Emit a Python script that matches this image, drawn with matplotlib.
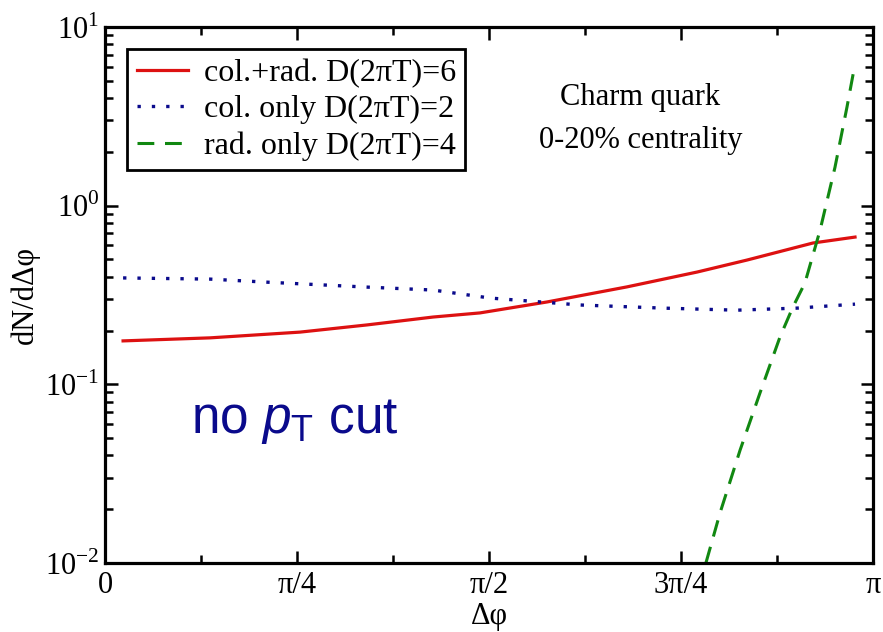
#!/usr/bin/env python3
''' charm quark dN/dDphi, no pT cut '''

import numpy as np
import matplotlib
matplotlib.use('Agg')
import matplotlib.pyplot as plt
from matplotlib.ticker import FixedLocator, FixedFormatter, LogLocator, NullFormatter

plt.rcParams['font.family'] = ['Liberation Serif', 'DejaVu Serif']
plt.rcParams['mathtext.fontset'] = 'custom'
plt.rcParams['mathtext.rm'] = 'Liberation Serif'
plt.rcParams['mathtext.it'] = 'Liberation Sans:italic'
plt.rcParams['mathtext.sf'] = 'Liberation Sans'

# values (x in radians)
phi_colrad = [0.074, 0.430, 0.798, 1.072, 1.342, 1.534, 1.808, 2.135, 2.422, 2.626, 2.896, 3.068]
dn_colrad = [0.175, 0.182, 0.196, 0.215, 0.238, 0.251, 0.289, 0.351, 0.425, 0.496, 0.618, 0.667]

phi_col = [0.074, 0.430, 0.663, 1.072, 1.342, 1.575, 1.943, 2.283, 2.585, 2.831, 3.068]
dn_col = [0.394, 0.388, 0.373, 0.350, 0.337, 0.304, 0.278, 0.267, 0.260, 0.267, 0.281]

phi_rad = [2.458, 2.516, 2.598, 2.679, 2.761, 2.814, 2.863, 2.925, 2.986, 3.035, 3.064]
dn_rad = [0.0100, 0.0191, 0.0429, 0.0893, 0.184, 0.271, 0.369, 0.729, 1.64, 3.56, 5.81]

labels = ['col.+rad. D(2\u03c0T)=6', 'col. only D(2\u03c0T)=2', 'rad. only D(2\u03c0T)=4']
xticks = [0, np.pi / 4, np.pi / 2, 3 * np.pi / 4, np.pi]
xticklabels = ['0', '\u03c0/4', '\u03c0/2', '3\u03c0/4', '\u03c0']
yticks = [1e-2, 1e-1, 1e0, 1e1]
yticklabels = ['$10^{-2}$', '$10^{-1}$', '$10^{0}$', '$10^{1}$']

fs = 22

fig = plt.figure(figsize=(8.83, 6.32), dpi=100)
ax = fig.add_axes([0.1189, 0.1092, 0.8698, 0.8481])

ax.plot(phi_colrad, dn_colrad, color='#dd1111', lw=2.3, label=labels[0])
ax.plot(phi_col, dn_col, color='#0a0a8c', lw=2.4, ls=(0, (1, 3.3)), label=labels[1])
ax.plot(phi_rad, dn_rad, color='#118811', lw=2.2, ls=(0, (5.5, 3.5)), label=labels[2])

ax.set_yscale('log')
ax.set_xlim(0, np.pi)
ax.set_ylim(1e-2, 1e1)

ax.xaxis.set_major_locator(FixedLocator(xticks))
ax.xaxis.set_major_formatter(FixedFormatter(xticklabels))
ax.xaxis.set_minor_locator(FixedLocator([np.pi / 8, 3 * np.pi / 8, 5 * np.pi / 8, 7 * np.pi / 8]))
ax.yaxis.set_major_locator(FixedLocator(yticks))
ax.yaxis.set_major_formatter(FixedFormatter(yticklabels))
ax.yaxis.set_minor_locator(LogLocator(base=10, subs=np.arange(2, 10)))
ax.yaxis.set_minor_formatter(NullFormatter())

ax.tick_params(which='both', direction='in', top=True, right=True, width=1.8, labelsize=fs)
ax.tick_params(which='major', length=9)
ax.tick_params(which='minor', length=5.5)
ax.tick_params(axis='x', pad=6)
ax.tick_params(axis='y', pad=4)
for s in ax.spines.values():
    s.set_linewidth(2.3)

ax.set_xlabel('\u0394\u03c6', fontsize=fs, labelpad=1)
ax.set_ylabel('dN/d\u0394\u03c6', fontsize=fs, labelpad=4)

leg = ax.legend(loc='upper left', bbox_to_anchor=(0.0286, 0.959), borderaxespad=0,
                fontsize=23, handlelength=1.6, labelspacing=0.22, handletextpad=0.5,
                borderpad=0.3, fancybox=False, framealpha=1, edgecolor='black')
leg.get_frame().set_linewidth(2.0)

ax.text(0.697, 0.828, 'Charm quark\n0-20% centrality', transform=ax.transAxes,
        ha='center', va='center', fontsize=fs, linespacing=1.65)

ax.text(0.247, 0.243, 'no $p_\\mathsf{T}$ cut', transform=ax.transAxes, ha='center',
        va='baseline', fontsize=37, color='#0a0a8c', family='Liberation Sans')

fig.savefig('out.png', dpi=100)
